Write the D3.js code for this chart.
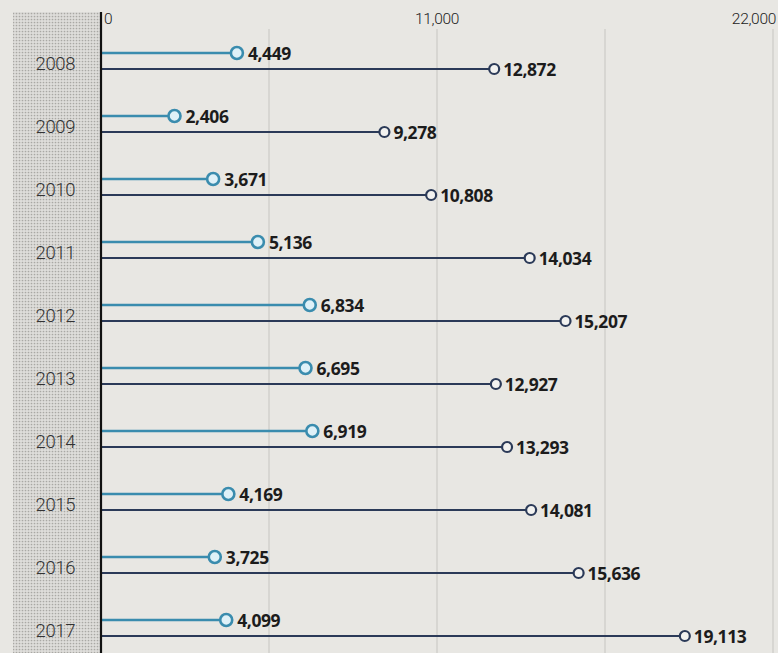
<!DOCTYPE html>
<html>
<head>
<meta charset="utf-8">
<script src="https://cdn.jsdelivr.net/npm/d3@7"></script>
<style>
  body { margin: 0; background: #e8e7e3; }
  svg { display: block; }
</style>
</head>
<body>
<script>
// Dimensions
const width = 778;
const height = 653;

// données
const years = ["2008", "2009", "2010", "2011", "2012", "2013", "2014", "2015", "2016", "2017"];
const serieClaire = [4449, 2406, 3671, 5136, 6834, 6695, 6919, 4169, 3725, 4099];
const serieFoncee = [12872, 9278, 10808, 14034, 15207, 12927, 13293, 14081, 15636, 19113];
const tickValues = [0, 11000, 22000];
const gridValues = [5500, 11000, 16500, 22000];

const couleurClaire = "#3a8cae";
const couleurFoncee = "#2b3a58";

const svg = d3.select("body").append("svg")
  .attr("width", width)
  .attr("height", height);

// fond tramé à gauche
const defs = svg.append("defs");
const pat = defs.append("pattern")
  .attr("id", "trame")
  .attr("width", 3)
  .attr("height", 3)
  .attr("patternUnits", "userSpaceOnUse");
pat.append("rect").attr("width", 3).attr("height", 3).attr("fill", "#dedddA");
pat.append("circle").attr("cx", 1.5).attr("cy", 1.5).attr("r", 0.85).attr("fill", "#a9a8a4");

svg.append("rect")
  .attr("x", 13)
  .attr("y", 12)
  .attr("width", 87)
  .attr("height", height - 12)
  .attr("fill", "url(#trame)");

// échelles
const x = d3.scaleLinear().domain([0, 22000]).range([101, 773]);
const y = d3.scaleBand().domain(years).range([31.5, 661.5]);

// lignes verticales
svg.selectAll(".grid")
  .data(gridValues)
  .join("line")
  .attr("class", "grid")
  .attr("x1", d => x(d))
  .attr("x2", d => x(d))
  .attr("y1", 29)
  .attr("y2", height)
  .attr("stroke", "#c6c5c1")
  .attr("stroke-width", 1);

// étiquettes de l'axe du haut
svg.selectAll(".tick-label")
  .data(tickValues)
  .join("text")
  .attr("class", "tick-label")
  .attr("x", (d, i) => i === 0 ? x(d) + 3 : (i === tickValues.length - 1 ? x(d) + 3 : x(d)))
  .attr("y", 24)
  .attr("text-anchor", (d, i) => i === 0 ? "start" : (i === tickValues.length - 1 ? "end" : "middle"))
  .style("font-family", "Roboto, sans-serif")
  .style("font-weight", 300)
  .style("font-size", "15.5px")
  .style("letter-spacing", "-0.3px")
  .style("fill", "#222")
  .text(d => d3.format(",")(d));

const rows = years.map((yr, i) => ({ year: yr, claire: serieClaire[i], foncee: serieFoncee[i] }));

const g = svg.selectAll(".row")
  .data(rows)
  .join("g")
  .attr("class", "row")
  .attr("transform", d => `translate(0,${y(d.year) + y.bandwidth() / 2})`);

// années
g.append("text")
  .attr("x", 75)
  .attr("y", 7)
  .attr("text-anchor", "end")
  .style("font-family", "Roboto, sans-serif")
  .style("font-weight", 300)
  .style("font-size", "18.5px")
  .style("letter-spacing", "-0.4px")
  .style("fill", "#333")
  .text(d => d.year);

// série foncée
g.append("line")
  .attr("x1", x(0))
  .attr("x2", d => x(d.foncee))
  .attr("y1", 6)
  .attr("y2", 6)
  .attr("stroke", couleurFoncee)
  .attr("stroke-width", 2.2);

g.append("circle")
  .attr("cx", d => x(d.foncee))
  .attr("cy", 6)
  .attr("r", 5)
  .attr("fill", "#f2f2f0")
  .attr("stroke", couleurFoncee)
  .attr("stroke-width", 2.2);

g.append("text")
  .attr("x", d => x(d.foncee) + 9)
  .attr("y", 12.5)
  .style("font-family", "'Open Sans', sans-serif")
  .style("font-weight", 700)
  .style("font-size", "17.5px")
  .style("letter-spacing", "-0.4px")
  .style("fill", "#1c1c1c")
  .text(d => d3.format(",")(d.foncee));

// série claire
g.append("line")
  .attr("x1", x(0))
  .attr("x2", d => x(d.claire))
  .attr("y1", -10)
  .attr("y2", -10)
  .attr("stroke", couleurClaire)
  .attr("stroke-width", 2.6);

g.append("circle")
  .attr("cx", d => x(d.claire))
  .attr("cy", -10)
  .attr("r", 6)
  .attr("fill", "#dff1f8")
  .attr("stroke", couleurClaire)
  .attr("stroke-width", 2.6);

g.append("text")
  .attr("x", d => x(d.claire) + 11)
  .attr("y", -3.5)
  .style("font-family", "'Open Sans', sans-serif")
  .style("font-weight", 700)
  .style("font-size", "17.5px")
  .style("letter-spacing", "-0.4px")
  .style("fill", "#1c1c1c")
  .text(d => d3.format(",")(d.claire));

// axe vertical
svg.append("line")
  .attr("x1", x(0))
  .attr("x2", x(0))
  .attr("y1", 12)
  .attr("y2", height)
  .attr("stroke", "#111")
  .attr("stroke-width", 2.2);
</script>
</body>
</html>
